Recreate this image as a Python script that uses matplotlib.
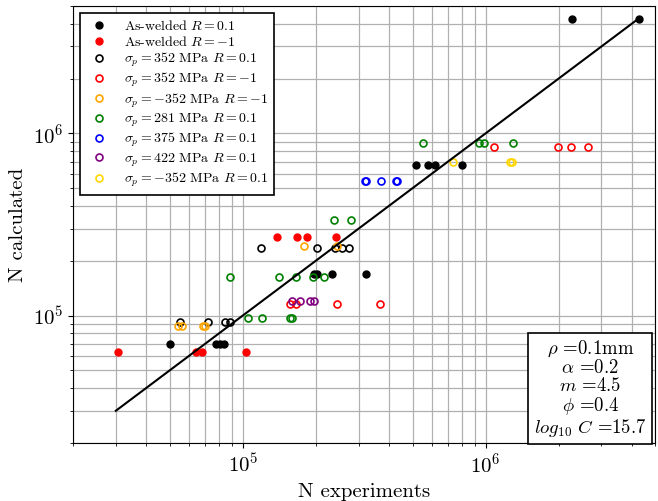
import numpy as np
import matplotlib
matplotlib.use("Agg")
import matplotlib.pyplot as plt

plt.rcParams['font.family'] = 'serif'
plt.rcParams['font.serif'] = ['cmr10']
plt.rcParams['mathtext.fontset'] = 'cm'
plt.rcParams['axes.formatter.use_mathtext'] = True
plt.rcParams['axes.unicode_minus'] = False

# data: (N experiments, N calculated)
aw01_x = [5.0e4, 7.74e4, 8.04e4, 8.36e4, 1.96e5, 2.02e5, 2.32e5, 3.21e5,
          5.15e5, 5.77e5, 6.17e5, 7.96e5, 2.26e6, 4.27e6]
aw01_y = [7.0e4, 7.0e4, 7.0e4, 7.0e4, 1.70e5, 1.70e5, 1.70e5, 1.70e5,
          6.67e5, 6.67e5, 6.67e5, 6.67e5, 4.23e6, 4.23e6]

awm1_x = [3.07e4, 6.41e4, 6.78e4, 1.03e5, 1.38e5, 1.67e5, 1.84e5, 2.42e5]
awm1_y = [6.27e4, 6.27e4, 6.27e4, 6.27e4, 2.69e5, 2.69e5, 2.69e5, 2.69e5]

p352_01_x = [5.52e4, 7.2e4, 8.43e4, 8.82e4, 1.19e5, 2.03e5, 2.39e5, 2.57e5, 2.75e5]
p352_01_y = [9.27e4, 9.27e4, 9.27e4, 9.27e4, 2.34e5, 2.34e5, 2.34e5, 2.34e5, 2.34e5]

p352_m1_x = [1.56e5, 1.65e5, 2.44e5, 3.66e5, 1.08e6, 1.98e6, 2.24e6, 2.65e6]
p352_m1_y = [1.16e5, 1.16e5, 1.16e5, 1.16e5, 8.45e5, 8.45e5, 8.45e5, 8.45e5]

m352_m1_x = [5.42e4, 5.62e4, 6.89e4, 7.02e4, 1.78e5, 2.44e5]
m352_m1_y = [8.74e4, 8.74e4, 8.74e4, 8.74e4, 2.41e5, 2.41e5]

p281_x = [8.84e4, 1.41e5, 1.65e5, 1.95e5, 2.17e5, 1.05e5, 1.20e5, 1.57e5, 1.59e5,
          2.37e5, 2.80e5, 5.51e5, 9.35e5, 9.81e5, 1.30e6]
p281_y = [1.63e5, 1.63e5, 1.63e5, 1.63e5, 1.63e5, 9.71e4, 9.71e4, 9.71e4, 9.71e4,
          3.33e5, 3.33e5, 8.81e5, 8.81e5, 8.81e5, 8.81e5]

p375_x = [3.18e5, 3.22e5, 3.71e5, 4.28e5, 4.32e5]
p375_y = [5.45e5, 5.45e5, 5.45e5, 5.45e5, 5.45e5]

p422_x = [1.59e5, 1.72e5, 1.90e5, 1.97e5]
p422_y = [1.20e5, 1.20e5, 1.20e5, 1.20e5]

m352_01_x = [7.31e5, 1.26e6, 1.28e6]
m352_01_y = [6.95e5, 6.95e5, 6.95e5]

line_ends = [3e4, 4.2e6]

fig = plt.figure(figsize=(6.58, 5.01), dpi=100)
ax = fig.add_axes([0.111, 0.116, 0.885, 0.872])

ms = 5
ax.plot(aw01_x, aw01_y, 'o', color='black', ms=ms, ls='none', label=r'As-welded $R=0.1$')
ax.plot(awm1_x, awm1_y, 'o', color='red', ms=ms, ls='none', label=r'As-welded $R=-1$')
hollow = [
    (p352_01_x, p352_01_y, 'black', r'$\sigma_p=352$ MPa $R=0.1$'),
    (p352_m1_x, p352_m1_y, 'red', r'$\sigma_p=352$ MPa $R=-1$'),
    (m352_m1_x, m352_m1_y, 'orange', r'$\sigma_p=-352$ MPa $R=-1$'),
    (p281_x, p281_y, 'green', r'$\sigma_p=281$ MPa $R=0.1$'),
    (p375_x, p375_y, 'blue', r'$\sigma_p=375$ MPa $R=0.1$'),
    (p422_x, p422_y, 'purple', r'$\sigma_p=422$ MPa $R=0.1$'),
    (m352_01_x, m352_01_y, 'gold', r'$\sigma_p=-352$ MPa $R=0.1$'),
]
for xs, ys, c, lab in hollow:
    ax.plot(xs, ys, 'o', mfc='none', mec=c, mew=1.2, ms=ms, ls='none', label=lab)

ax.plot(line_ends, line_ends, '-', color='black', lw=1.5)

ax.set_xscale('log')
ax.set_yscale('log')
ax.set_xlim(2e4, 5e6)
ax.set_ylim(2e4, 5e6)
ax.grid(True, which='both', color='#b0b0b0', lw=0.9)
ax.set_axisbelow(True)
ax.tick_params(labelsize=15)
ax.set_xlabel('N experiments', fontsize=15)
ax.set_ylabel('N calculated', fontsize=15)

leg = ax.legend(loc='upper left', fontsize=10, fancybox=False, edgecolor='black',
                framealpha=1, handletextpad=0.8, labelspacing=0.15)
leg.get_frame().set_linewidth(1.2)

txt = '\n'.join([r'$\rho$ =0.1mm', r'$\alpha$ =0.2', r'$m$ =4.5', r'$\phi$ =0.4',
                 r'$log_{10}\ C$ =15.7'])
ax.text(0.985, 0.01, txt, transform=ax.transAxes, ha='right', va='bottom',
        multialignment='center', fontsize=13.5, linespacing=1.0,
        bbox=dict(boxstyle='square', facecolor='white', edgecolor='black', lw=1.2))

fig.savefig('out.png', dpi=100)
